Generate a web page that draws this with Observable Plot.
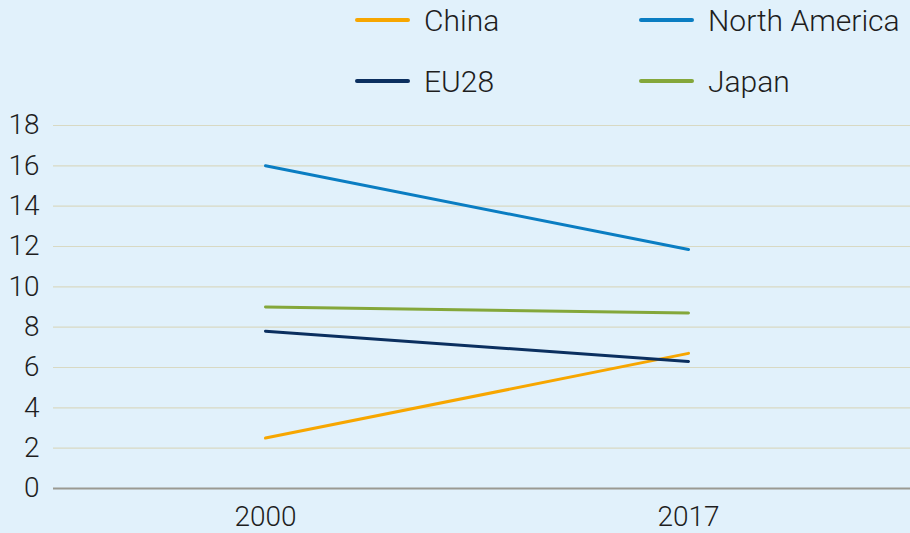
<!DOCTYPE html>
<html>
<head>
<meta charset="utf-8">
<script src="https://cdn.jsdelivr.net/npm/d3@7"></script>
<script src="https://cdn.jsdelivr.net/npm/@observablehq/plot@0.6"></script>
<style>
  html, body { margin: 0; padding: 0; background: #e1f1fb; }
  body { width: 910px; height: 533px; overflow: hidden; font-family: Roboto, "Noto Sans", sans-serif; font-weight: 300; color: #1e1e1e; }
  #legend { position: relative; height: 100px; }
  .item { position: absolute; display: flex; align-items: center; font-size: 30px; height: 40px; white-space: nowrap; }
  .sw { width: 55px; height: 4px; border-radius: 2px; margin-right: 14px; }
</style>
</head>
<body>
<div id="legend"></div>
<div id="chart"></div>
<script>
const years = ["2000", "2017"];
const seriesNames = ["China", "North America", "EU28", "Japan"];
const seriesColors = ["#f7a600", "#0a7dc2", "#0b2f5f", "#84a73a"];
const china = [2.5, 6.7];
const northAmerica = [16.0, 11.85];
const eu28 = [7.8, 6.3];
const japan = [9.0, 8.7];
const yTicks = [0, 2, 4, 6, 8, 10, 12, 14, 16, 18];

const seriesValues = [china, northAmerica, eu28, japan];
const data = [];
seriesNames.forEach((s, i) => years.forEach((y, j) => data.push({series: s, year: y, value: seriesValues[i][j]})));

// legend
const legendPos = [[355, 0], [639, 0], [355, 61], [639, 61]];
const legend = document.getElementById("legend");
seriesNames.forEach((s, i) => {
  const d = document.createElement("div");
  d.className = "item";
  d.style.left = legendPos[i][0] + "px";
  d.style.top = legendPos[i][1] + "px";
  d.innerHTML = `<span class="sw" style="background:${seriesColors[i]}"></span><span>${s}</span>`;
  legend.appendChild(d);
});

const chart = Plot.plot({
  width: 910,
  height: 433,
  marginTop: 25,
  marginBottom: 45,
  marginLeft: 53,
  marginRight: 0,
  style: {background: "transparent", fontFamily: "Roboto, 'Noto Sans', sans-serif", fontSize: "27px", fontWeight: 300, color: "#1e1e1e"},
  x: {type: "point", domain: years, range: [265, 688], padding: 0, label: null},
  y: {domain: [0, 18], ticks: yTicks, label: null},
  color: {domain: seriesNames, range: seriesColors},
  marks: [
    Plot.ruleY(yTicks.filter(t => t > 0), {stroke: "#d8d9c3", strokeWidth: 1.2}),
    Plot.ruleY([0], {stroke: "#9a9a92", strokeWidth: 2}),
    Plot.axisY(yTicks, {tickSize: 0, tickPadding: 14, fontSize: 28}),
    Plot.axisX({tickSize: 0, tickPadding: 18, fontSize: 28}),
    Plot.line(data, {x: "year", y: "value", z: "series", stroke: "series", strokeWidth: 3})
  ]
});
document.getElementById("chart").appendChild(chart);
</script>
</body>
</html>
